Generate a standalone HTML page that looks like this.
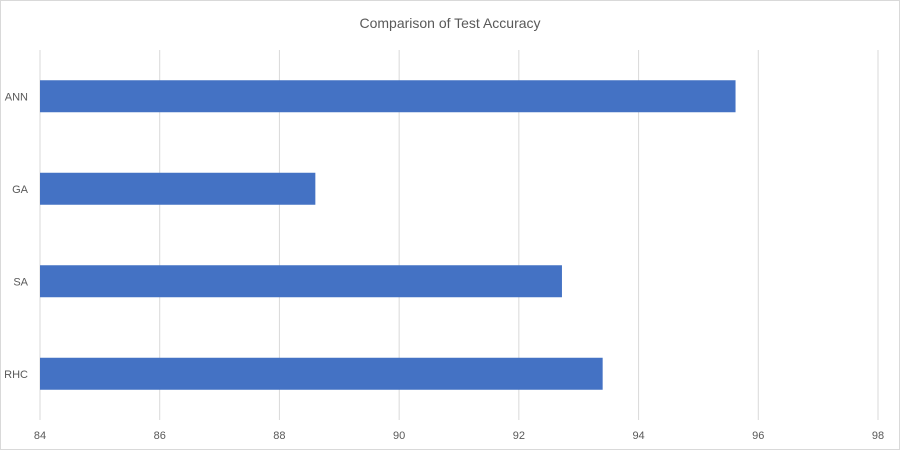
<!DOCTYPE html>
<html><head><meta charset="utf-8"><style>
html,body{margin:0;padding:0;background:#fff}
svg{display:block;font-family:"Liberation Sans",sans-serif}
</style></head><body>
<svg id="chart" width="900" height="450">
<rect x="0.5" y="0.5" width="899" height="449" fill="#fff" stroke="#d9d9d9"/>
<text x="450" y="28" text-anchor="middle" font-size="14" fill="#595959">Comparison of Test Accuracy</text>
<g id="grid"></g><g id="bars"></g><g id="xt"></g><g id="yt"></g>
</svg>
<script>
const categories = ["ANN","GA","SA","RHC"];
const values = [95.62, 88.6, 92.72, 93.4];
const ticks = [84,86,88,90,92,94,96,98];
const ns="http://www.w3.org/2000/svg";
const x0=40,x1=878,xmin=84,xmax=98,yTop=50,yBot=420;
const xs=v=>x0+(v-xmin)/(xmax-xmin)*(x1-x0);
const band=(yBot-yTop)/categories.length;
const ys=i=>yTop+band*i+band/2;
function mk(t,a,p){const e=document.createElementNS(ns,t);for(const k in a)e.setAttribute(k,a[k]);document.getElementById(p).appendChild(e);return e;}
ticks.forEach(t=>{
 const l=mk("line",{x1:xs(t),x2:xs(t),y1:yTop,y2:yBot,stroke:"#d9d9d9","stroke-width":1},"grid");
 
 
 const tx=mk("text",{x:xs(t),y:439,"text-anchor":"middle","font-size":"11",fill:"#595959"},"xt");
 tx.textContent=t;
 
 
});
categories.forEach((c,i)=>{
 const r=mk("rect",{x:x0,y:ys(i)-16,width:xs(values[i])-x0,height:32,fill:"#4472c4"},"bars");
 
 
 const tx=mk("text",{x:28,y:ys(i)+4,"text-anchor":"end","font-size":"11",fill:"#595959"},"yt");
 tx.textContent=c;
 
 
});
</script>
</body></html>
